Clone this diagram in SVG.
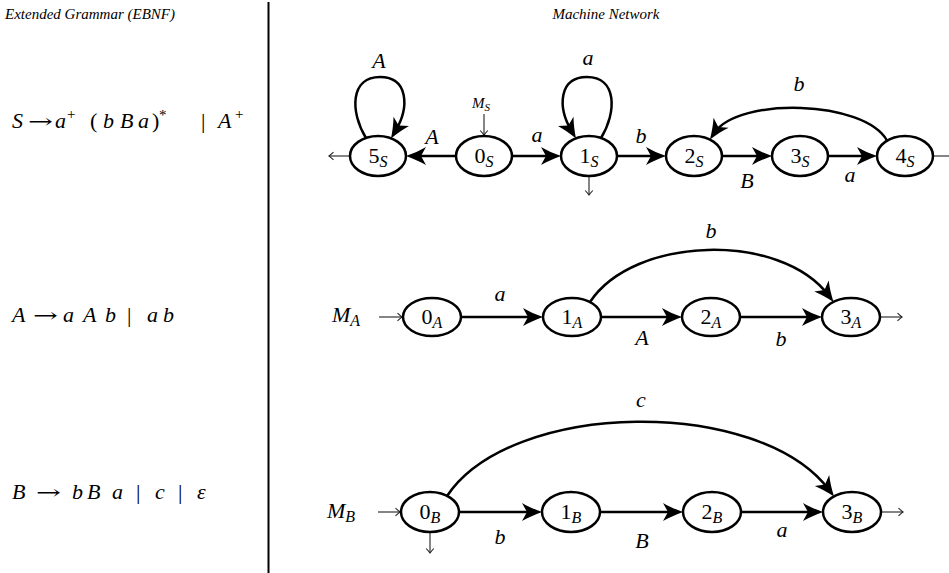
<svg xmlns="http://www.w3.org/2000/svg" width="949" height="573" viewBox="0 0 949 573" font-family="'Liberation Serif', serif">
<style>
.bg{fill:#fff}
.n{fill:#fff;stroke:#000;stroke-width:2.5}
.e{fill:none;stroke:#000;stroke-width:2.5;marker-end:url(#big)}
.t{fill:none;stroke:#222;stroke-width:1.1;marker-end:url(#small)}
text{font-family:'Liberation Serif',serif;fill:#000}
.m{font-size:22px;font-style:italic}
.u{font-style:normal}
.ar{font-style:normal;font-family:'DejaVu Serif',serif;font-size:20px}
.sub{font-size:16px;font-style:italic}
.nl{font-size:22px;font-style:normal}
.ti{font-size:15px;font-style:italic}
.sm{font-size:15px;font-style:italic}
.smsub{font-size:11px;font-style:italic}
</style>
<defs>
<marker id="big" markerUnits="userSpaceOnUse" orient="auto" overflow="visible" refX="0" refY="0" markerWidth="1" markerHeight="1">
<path d="M8,0 C1,-2.5 -6,-5.5 -12,-9 L-7,0 L-12,9 C-6,5.5 1,2.5 8,0 Z" fill="#000"/>
</marker>
<marker id="small" markerUnits="userSpaceOnUse" orient="auto" overflow="visible" refX="0" refY="0" markerWidth="1" markerHeight="1">
<path d="M-4.5,-3.8 Q-1.2,-0.8 0,0 Q-1.2,0.8 -4.5,3.8" fill="none" stroke="#222" stroke-width="1.1"/>
</marker>
</defs>
<rect class="bg" x="0" y="0" width="949" height="573"/>

<g id="titles">
<text class="ti" x="5" y="19">Extended Grammar (EBNF)</text>
<text class="ti" x="606" y="19" text-anchor="middle">Machine Network</text>
<line x1="268.5" y1="2" x2="268.5" y2="573" stroke="#000" stroke-width="2"/>
</g>

<g id="grammar" class="m">
<text x="12" y="128">S</text><text class="ar" x="28" y="128" textLength="25" lengthAdjust="spacingAndGlyphs">→</text><text x="55" y="128">a</text><text class="u" x="67" y="119" font-size="15">+</text>
<text class="u" x="90" y="128">(</text><text x="103" y="128">b</text><text x="120" y="128">B</text><text x="138" y="128">a</text><text class="u" x="152" y="128">)</text><text class="u" x="159" y="120" font-size="15">*</text>
<text class="u" x="201" y="128">|</text><text x="218" y="128">A</text><text class="u" x="235" y="119" font-size="15">+</text>

<text x="12" y="322">A</text><text class="ar" x="33" y="322" textLength="25" lengthAdjust="spacingAndGlyphs">→</text><text x="63" y="322">a</text><text x="83" y="322">A</text><text x="105" y="322">b</text><text class="u" x="127" y="322">|</text><text x="147" y="322">a</text><text x="163" y="322">b</text>

<text x="12" y="499">B</text><text class="ar" x="36" y="499" textLength="25" lengthAdjust="spacingAndGlyphs">→</text><text x="72" y="499">b</text><text x="87" y="499">B</text><text x="112" y="499">a</text><text class="u" x="136" y="499">|</text><text x="155" y="499">c</text><text class="u" x="178" y="499">|</text><text x="197" y="499">ε</text>
</g>

<g id="connectors">
<path class="e" d="M455.5,156 L414,156"/>
<path class="e" d="M512,156 L553,156"/>
<path class="e" d="M617,156 L658,156"/>
<path class="e" d="M722,156 L764,156"/>
<path class="e" d="M828,156 L869,156"/>
<path class="e" d="M887,140.5 C864,100 738.4,96.8 714.4,132.8"/>
<path class="e" d="M366,138 C350,112 350,77 380,77 C408,77 410,106.6 395.1,131.6"/>
<path class="e" d="M601,138 C617,112 617,77 587,77 C559,77 557,106.6 571.9,131.6"/>
<path class="t" d="M484,114 L484,135"/>
<path class="t" d="M350,156 L329,156"/>
<path class="t" d="M589,176 L589,195"/>
<path class="t" d="M933,156 L954,156"/>

<path class="e" d="M461,317 L535,317"/>
<path class="e" d="M601,317 L674,317"/>
<path class="e" d="M740,317 L814,317"/>
<path class="e" d="M590,302 C634,235.6 780.7,231.6 828.7,295.6"/>
<path class="t" d="M379,317 L402,317"/>
<path class="t" d="M880,317 L902,317"/>

<path class="e" d="M459,512 L534,512"/>
<path class="e" d="M600,512 L675,512"/>
<path class="e" d="M741,512 L815,512"/>
<path class="e" d="M447,496 C512.2,399.1 759.2,396.7 829.2,490.1"/>
<path class="t" d="M378,512 L400,512"/>
<path class="t" d="M430,532 L430,553"/>
<path class="t" d="M881,512 L903,512"/>
</g>

<g id="edge-labels" class="m" text-anchor="middle">
<text x="379" y="67.5">A</text>
<text x="588" y="65">a</text>
<text x="432" y="144">A</text>
<text x="537" y="141.5">a</text>
<text x="641" y="142.5">b</text>
<text x="747" y="187.5">B</text>
<text x="850" y="181.5">a</text>
<text x="799" y="91">b</text>
<text x="500" y="301">a</text>
<text x="642" y="345">A</text>
<text x="781" y="345.5">b</text>
<text x="711" y="237.5">b</text>
<text x="500" y="544">b</text>
<text x="642" y="548">B</text>
<text x="782" y="537">a</text>
<text x="641" y="406.5">c</text>
</g>

<g id="start-labels">
<text class="sm" x="472" y="108">M<tspan class="smsub" dy="3">S</tspan></text>
<text class="m" x="332" y="322">M<tspan class="sub" dy="4">A</tspan></text>
<text class="m" x="327" y="518">M<tspan class="sub" dy="4">B</tspan></text>
</g>

<g id="n5S"><ellipse class="n" cx="378" cy="156" rx="28" ry="20"/><text class="nl" x="378" y="163" text-anchor="middle">5<tspan class="sub" dy="4">S</tspan></text></g>
<g id="n0S"><ellipse class="n" cx="484" cy="156" rx="28" ry="20"/><text class="nl" x="484" y="163" text-anchor="middle">0<tspan class="sub" dy="4">S</tspan></text></g>
<g id="n1S"><ellipse class="n" cx="589" cy="156" rx="28" ry="20"/><text class="nl" x="589" y="163" text-anchor="middle">1<tspan class="sub" dy="4">S</tspan></text></g>
<g id="n2S"><ellipse class="n" cx="694" cy="156" rx="28" ry="20"/><text class="nl" x="694" y="163" text-anchor="middle">2<tspan class="sub" dy="4">S</tspan></text></g>
<g id="n3S"><ellipse class="n" cx="800" cy="156" rx="28" ry="20"/><text class="nl" x="800" y="163" text-anchor="middle">3<tspan class="sub" dy="4">S</tspan></text></g>
<g id="n4S"><ellipse class="n" cx="905" cy="156" rx="28" ry="20"/><text class="nl" x="905" y="163" text-anchor="middle">4<tspan class="sub" dy="4">S</tspan></text></g>

<g id="n0A"><ellipse class="n" cx="432" cy="317" rx="29" ry="19"/><text class="nl" x="432" y="324" text-anchor="middle">0<tspan class="sub" dy="4">A</tspan></text></g>
<g id="n1A"><ellipse class="n" cx="572" cy="317" rx="29" ry="19"/><text class="nl" x="572" y="324" text-anchor="middle">1<tspan class="sub" dy="4">A</tspan></text></g>
<g id="n2A"><ellipse class="n" cx="711" cy="317" rx="29" ry="19"/><text class="nl" x="711" y="324" text-anchor="middle">2<tspan class="sub" dy="4">A</tspan></text></g>
<g id="n3A"><ellipse class="n" cx="851" cy="317" rx="29" ry="19"/><text class="nl" x="851" y="324" text-anchor="middle">3<tspan class="sub" dy="4">A</tspan></text></g>

<g id="n0B"><ellipse class="n" cx="430" cy="512" rx="29" ry="20"/><text class="nl" x="430" y="519" text-anchor="middle">0<tspan class="sub" dy="4">B</tspan></text></g>
<g id="n1B"><ellipse class="n" cx="571" cy="512" rx="29" ry="20"/><text class="nl" x="571" y="519" text-anchor="middle">1<tspan class="sub" dy="4">B</tspan></text></g>
<g id="n2B"><ellipse class="n" cx="712" cy="512" rx="29" ry="20"/><text class="nl" x="712" y="519" text-anchor="middle">2<tspan class="sub" dy="4">B</tspan></text></g>
<g id="n3B"><ellipse class="n" cx="852" cy="512" rx="29" ry="20"/><text class="nl" x="852" y="519" text-anchor="middle">3<tspan class="sub" dy="4">B</tspan></text></g>
</svg>
